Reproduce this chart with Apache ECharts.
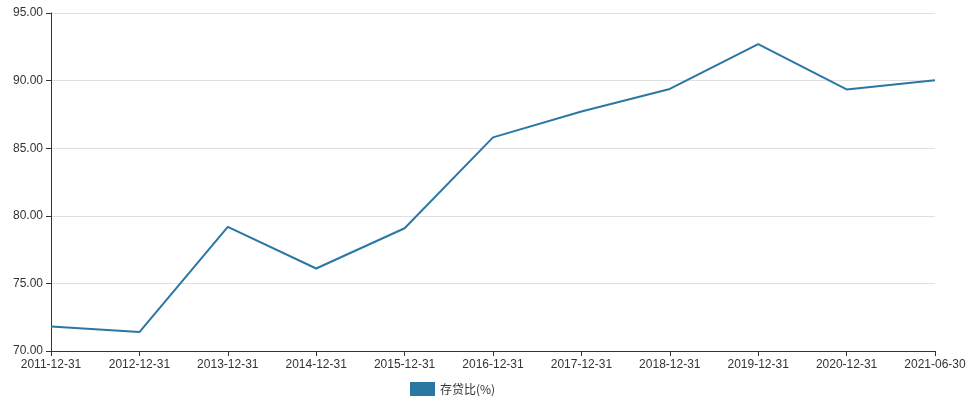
<!DOCTYPE html>
<html><head><meta charset="utf-8">
<script src="https://cdn.jsdelivr.net/npm/echarts@6/dist/echarts.min.js"></script>
<style>html,body{margin:0;padding:0}#c{width:974px;height:405px}</style>
</head><body><div id="c"></div>
<script>
const categories=['2011-12-31','2012-12-31','2013-12-31','2014-12-31','2015-12-31','2016-12-31','2017-12-31','2018-12-31','2019-12-31','2020-12-31','2021-06-30'];
const values=[71.82,71.40,79.18,76.10,79.08,85.80,87.72,89.38,92.70,89.35,90.02];
const seriesName='存贷比(%)';
const chart=echarts.init(document.getElementById('c'));
chart.setOption({
  animation:false,
  grid:{left:51,right:39,top:13,bottom:54,containLabel:false},
  legend:{bottom:4,left:405,itemWidth:25,itemHeight:14,icon:'rect',textStyle:{color:'#333',fontSize:12,fontFamily:'Microsoft YaHei, Noto Sans CJK SC, sans-serif'},data:[seriesName]},
  xAxis:{type:'category',data:categories,boundaryGap:false,
    axisLine:{lineStyle:{color:'#333'}},axisTick:{show:true,lineStyle:{color:'#333'}},
    axisLabel:{color:'#333',fontSize:12,interval:0}},
  yAxis:{type:'value',min:70,max:95,interval:5,
    axisLine:{show:true,lineStyle:{color:'#333'}},axisTick:{show:true},
    axisLabel:{color:'#333',fontSize:12,formatter:v=>v.toFixed(2)},
    splitLine:{lineStyle:{color:'#e0e0e0'}}},
  series:[{name:seriesName,type:'line',data:values,symbol:'none',itemStyle:{color:'#2a77a4'},lineStyle:{color:'#2a77a4',width:2}}]
});
</script></body></html>
